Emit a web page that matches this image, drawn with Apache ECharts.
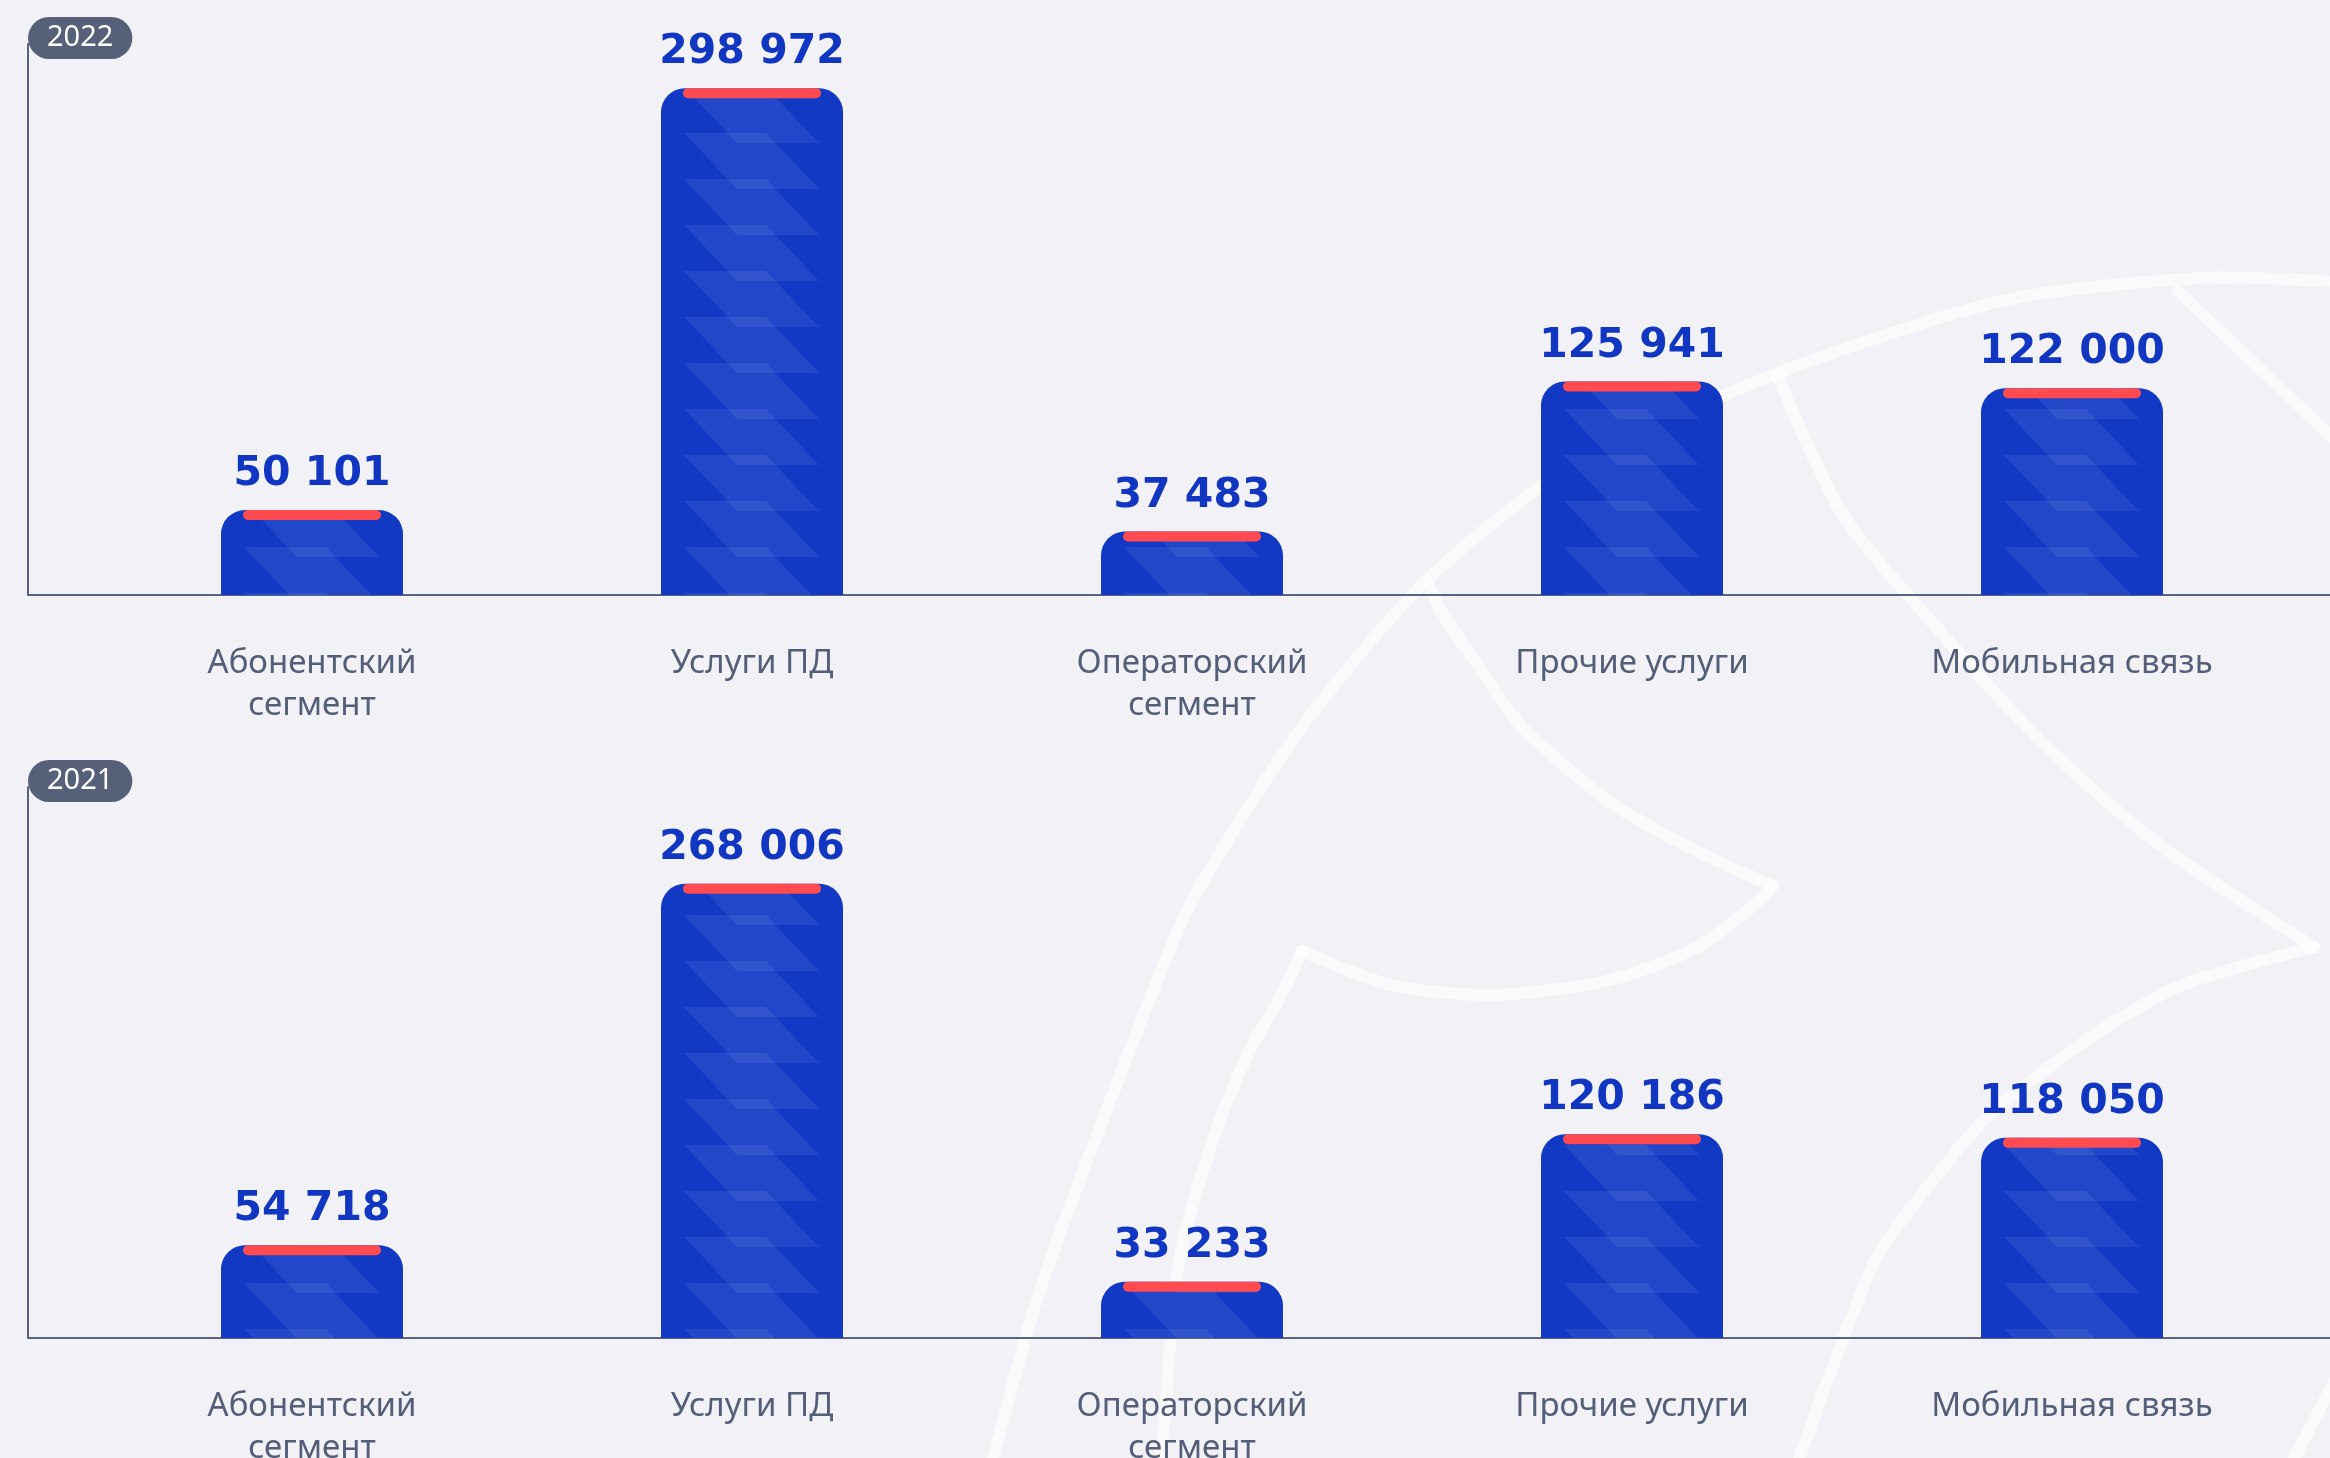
<!DOCTYPE html>
<html>
<head>
<meta charset="utf-8">
<script src="https://cdn.jsdelivr.net/npm/echarts@6/dist/echarts.min.js"></script>
<style>
html,body{margin:0;padding:0;background:#f2f2f6;}
#chart{width:2330px;height:1458px;}
</style>
</head>
<body>
<div id="chart"></div>
<script>
// ---- data ----
const categories = ['Абонентский\nсегмент', 'Услуги ПД', 'Операторский\nсегмент', 'Прочие услуги', 'Мобильная связь'];
const values2022 = [50101, 298972, 37483, 125941, 122000];
const values2021 = [54718, 268006, 33233, 120186, 118050];
const years = ['2022', '2021'];

// ---- styles ----
const BLUE = '#1139c4';
const LABEL_BLUE = '#1136c2';
const RED = '#ff4b50';
const AXIS = '#59637f';
const GRAY = '#555e79';
const BADGE = '#566079';

function makePattern() {
  const c = document.createElement('canvas');
  c.width = 440; c.height = 46;
  const g = c.getContext('2d');
  g.fillStyle = BLUE;
  g.fillRect(0, 0, 440, 46);
  g.fillStyle = 'rgba(255,255,255,0.075)';
  const x0 = 221;
  [-46, 0, 46].forEach(function (dy) {
    g.beginPath();
    g.moveTo(x0 + 23, dy - 5);
    g.lineTo(x0 + 105, dy - 5);
    g.lineTo(x0 + 158, dy + 51);
    g.lineTo(x0 + 76, dy + 51);
    g.closePath();
    g.fill();
  });
  return c;
}
const patternCanvas = makePattern();

function fmt(v) {
  return String(v).replace(/\B(?=(\d{3})+(?!\d))/g, ' ');
}

const chart = echarts.init(document.getElementById('chart'), null, {renderer: 'canvas'});

const tops = [44, 787];
const grids = [], xAxes = [], yAxes = [], series = [];
const datasets = [values2022, values2021];

tops.forEach(function (top, k) {
  grids.push({left: 92, top: top, width: 2200, height: 551, outerBoundsMode: 'none', containLabel: false});
  grids.push({left: 28, top: top, right: 0, height: 551, outerBoundsMode: 'none', containLabel: false});
  xAxes.push({
    gridIndex: 2 * k, type: 'category', data: categories,
    axisLine: {show: false}, axisTick: {show: false}, splitLine: {show: false},
    axisLabel: {
      interval: 0, margin: 48, color: GRAY, fontFamily: 'Noto Sans',
      fontSize: 33, lineHeight: 42
    }
  });
  xAxes.push({
    gridIndex: 2 * k + 1, type: 'value', min: 0, max: 1,
    axisLine: {show: true, lineStyle: {color: AXIS, width: 2}},
    axisTick: {show: false}, axisLabel: {show: false}, splitLine: {show: false}
  });
  yAxes.push({gridIndex: 2 * k, type: 'value', min: 0, max: 325000, show: false});
  yAxes.push({
    gridIndex: 2 * k + 1, type: 'value', min: 0, max: 1,
    axisLine: {show: true, lineStyle: {color: AXIS, width: 2}},
    axisTick: {show: false}, axisLabel: {show: false}, splitLine: {show: false},
    name: years[k], nameLocation: 'end', nameGap: 6,
    nameTextStyle: {
      align: 'left', verticalAlign: 'middle',
      color: '#ffffff', fontFamily: 'Noto Sans', fontSize: 29, lineHeight: 30,
      backgroundColor: BADGE, borderRadius: 21, padding: [6, 19, 6, 19]
    }
  });
  series.push({
    type: 'bar', xAxisIndex: 2 * k, yAxisIndex: 2 * k,
    data: datasets[k], barWidth: 182, z: 3,
    itemStyle: {
      color: {image: patternCanvas, repeat: 'repeat'},
      borderRadius: [24, 24, 0, 0]
    },
    label: {
      show: true, position: 'top', distance: 15,
      formatter: function (p) { return fmt(p.value); },
      color: LABEL_BLUE, fontFamily: 'DejaVu Sans', fontWeight: 'bold', fontSize: 41
    },
    emphasis: {disabled: true}
  });
  series.push({
    type: 'scatter', xAxisIndex: 2 * k, yAxisIndex: 2 * k,
    data: datasets[k], z: 5,
    symbol: 'path://M5,0 H133 A5,5 0 0 1 133,10 H5 A5,5 0 0 1 5,0 Z',
    symbolKeepAspect: false,
    symbolSize: [138, 10], symbolOffset: [0, 5],
    itemStyle: {color: RED, opacity: 1},
    emphasis: {disabled: true}
  });
});

// background watermark lines (decoration)
const wm = {stroke: 'rgba(255,255,255,0.6)', lineWidth: 12, fill: null, lineCap: 'round', lineJoin: 'round'};
function pl(points, s) {
  return {type: 'polyline', z: -10, silent: true, shape: {points: points, smooth: s == null ? 0.25 : s}, style: wm};
}
const graphics = [
  pl([[2340, 282], [2200, 278], [2006, 300], [1786, 370], [1566, 470], [1425, 582], [1302, 727], [1190, 905], [1126, 1060], [1040, 1290], [990, 1470]]),
  pl([[2178, 291], [2340, 445]], 0),
  pl([[1777, 374], [1842, 513], [1930, 620], [2040, 740], [2160, 845], [2314, 947]], 0.3),
  pl([[2314, 947], [2182, 985], [2094, 1035], [1989, 1115], [1918, 1199], [1874, 1262], [1795, 1470]]),
  pl([[1428, 582], [1443, 615], [1478, 665], [1522, 727], [1610, 802], [1698, 852], [1773, 886]]),
  pl([[1773, 886], [1760, 900], [1698, 947], [1610, 980], [1496, 995], [1390, 985], [1302, 951]]),
  pl([[1302, 951], [1284, 990], [1249, 1052], [1214, 1136], [1179, 1262], [1161, 1470]]),
  pl([[2340, 1370], [2288, 1470]], 0)
];

chart.setOption({
  backgroundColor: '#f2f2f6',
  animation: false,
  tooltip: {show: false},
  grid: grids,
  xAxis: xAxes,
  yAxis: yAxes,
  series: series,
  graphic: graphics
});
</script>
</body>
</html>
